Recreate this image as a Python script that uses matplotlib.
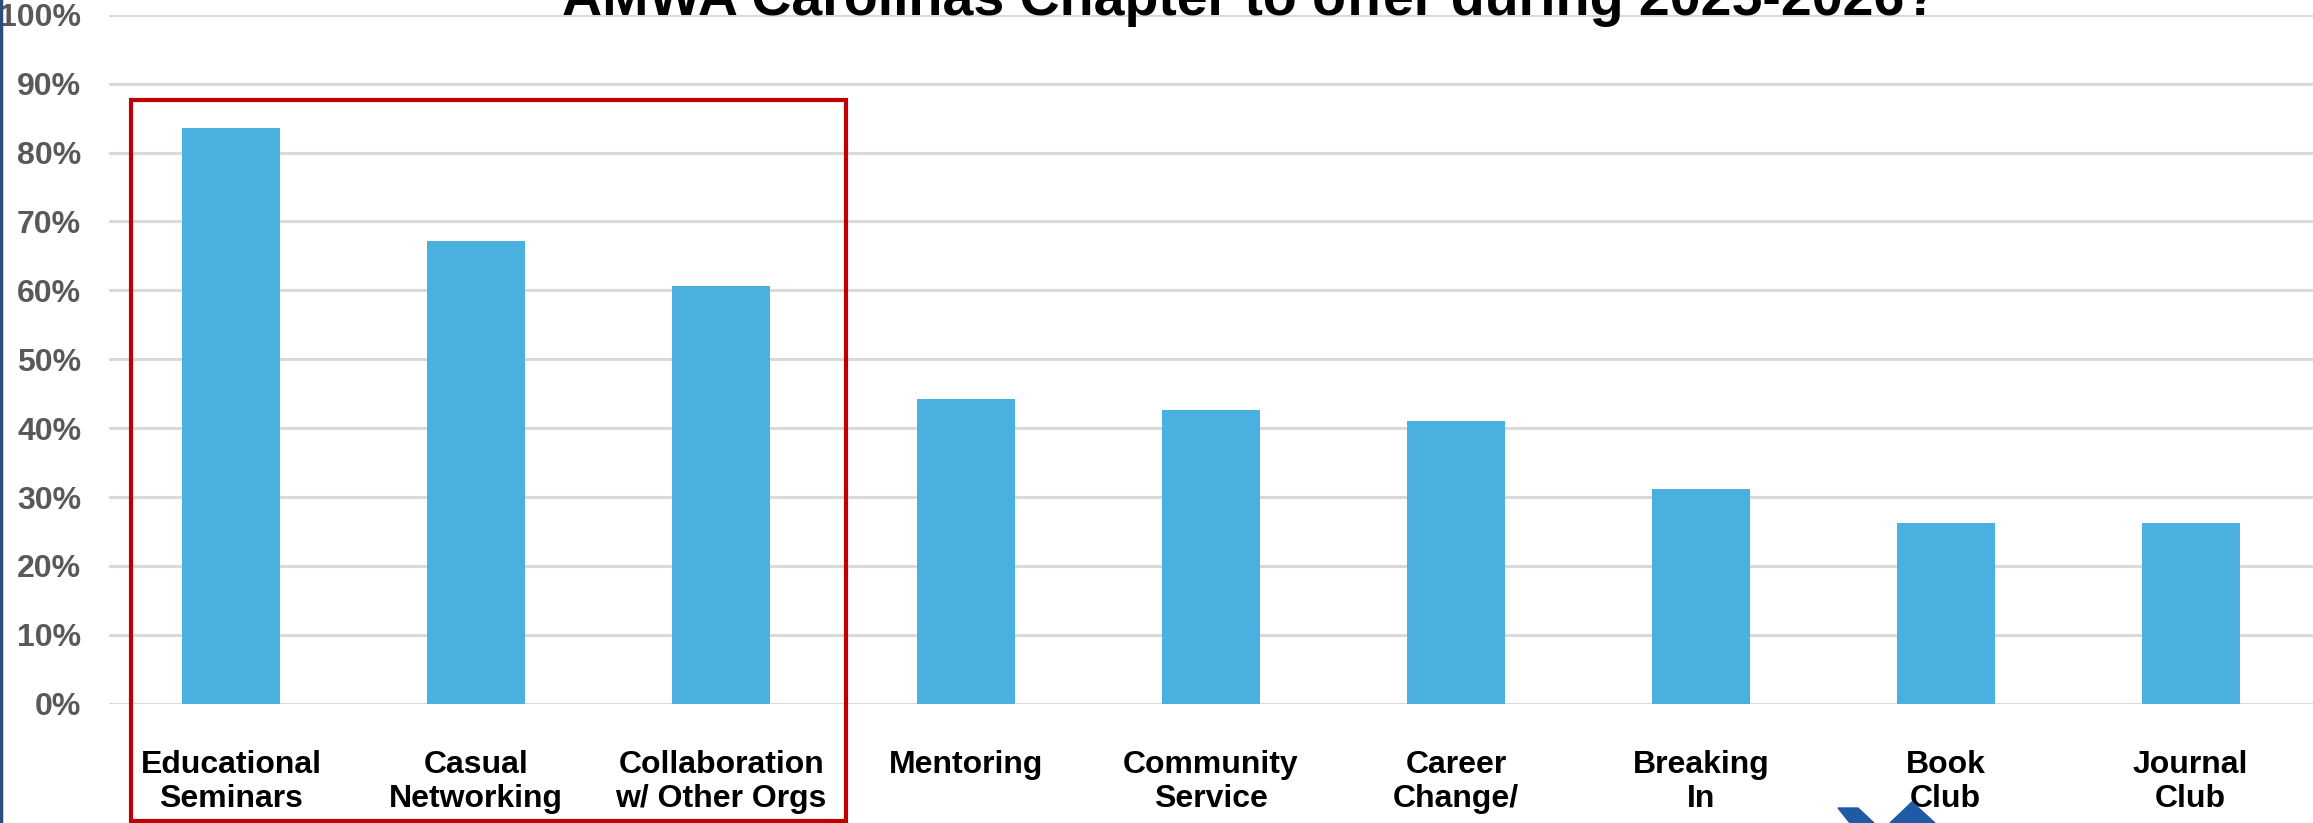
import numpy as np
import matplotlib.pyplot as plt
from matplotlib.patches import Rectangle, Polygon
from matplotlib.ticker import PercentFormatter

categories = ["Educational\nSeminars", "Casual\nNetworking", "Collaboration\nw/ Other Orgs",
              "Mentoring", "Community\nService", "Career\nChange/", "Breaking\nIn",
              "Book\nClub", "Journal\nClub"]
shares = [83.6, 67.2, 60.7, 44.3, 42.6, 41.0, 31.1, 26.2, 26.2]
title = "AMWA Carolinas Chapter to offer during 2025-2026?"

plt.rcParams['font.family'] = ['Liberation Sans', 'DejaVu Sans']

W, H = 2313, 823
fig = plt.figure(figsize=(W / 100, H / 100), dpi=100)
ax = fig.add_axes([109 / W, 1 - 703.7 / H, 1 - 109 / W, (703.7 - 14.8) / H])

x = np.arange(len(categories))
ax.bar(x, shares, width=0.4, color="#49B0E0", zorder=2)

ax.set_xlim(-0.5, len(categories) - 0.5)
ax.set_ylim(0, 100)
ax.set_yticks(np.arange(0, 101, 10))
ax.yaxis.set_major_formatter(PercentFormatter(decimals=0))
ax.grid(axis="y", color="#D9D9D9", linewidth=2.2, zorder=0)
for s in ax.spines.values():
    s.set_visible(False)
ax.tick_params(axis="y", length=0, pad=20, labelsize=23, labelcolor="#595959")
ax.tick_params(axis="x", length=0, pad=33, labelsize=23, labelcolor="black")
ax.set_xticks(x, categories, fontweight="bold", linespacing=1.2)
for t in ax.get_yticklabels():
    t.set_fontweight("bold")

# highlight box around top three
ax.add_patch(Rectangle((-0.41, -17.0), 2.92, 104.6, fill=False, edgecolor="#C00000",
                       linewidth=3, clip_on=False, zorder=3))

# title (second line only, top is cut off)
fig.text(1250 / W, 1 - 15 / H, title, ha="center", va="baseline",
         fontsize=40, fontweight="bold", color="black")

# slide edge line on the left
fig.add_artist(plt.Line2D([1 / W, 1 / W], [0, 1], color="#2B4C7E", linewidth=2.5))

# bit of the logo peeking in at the bottom
def px(xp, yp):
    return [xp / W, 1 - yp / H]

fig.add_artist(Polygon([px(1838, 808), px(1858, 808), px(1874, 823), px(1850, 823)],
                       closed=True, color="#1F5AA6", transform=fig.transFigure))
fig.add_artist(Polygon([px(1890, 823), px(1912, 802), px(1935, 823)],
                       closed=True, color="#1F5AA6", transform=fig.transFigure))

fig.savefig("out.png", dpi=100)
